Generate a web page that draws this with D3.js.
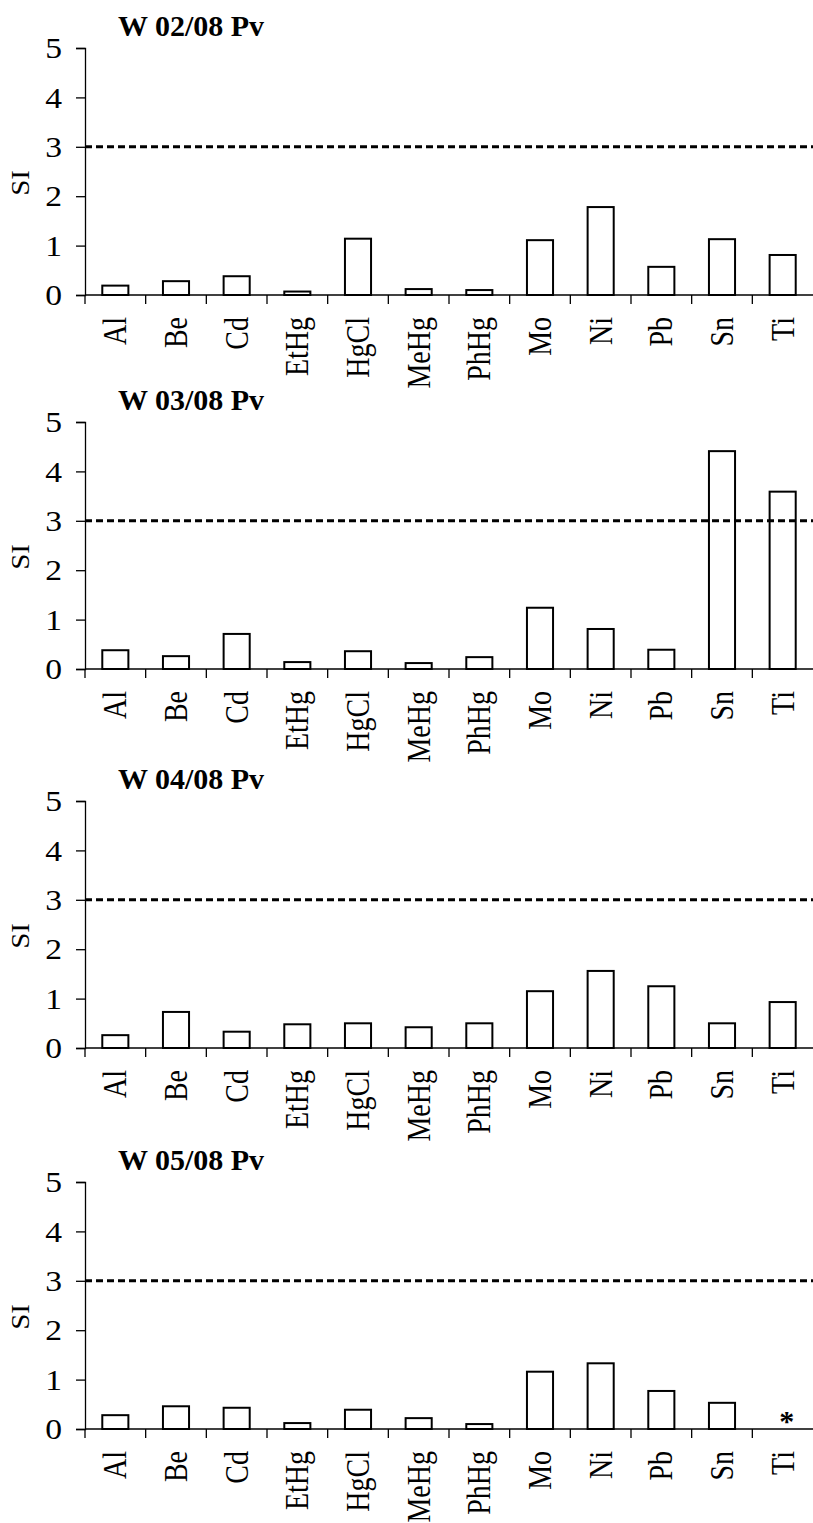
<!DOCTYPE html>
<html>
<head>
<meta charset="utf-8">
<script src="https://cdn.jsdelivr.net/npm/d3@7"></script>
<style>
  body { margin: 0; background: #fff; }
  svg { display: block; }
  text { font-family: "Liberation Serif", "Times New Roman", serif; fill: #000; }
</style>
</head>
<body>
<script>
// data
var categories = ['Al', 'Be', 'Cd', 'EtHg', 'HgCl', 'MeHg', 'PhHg', 'Mo', 'Ni', 'Pb', 'Sn', 'Ti'];
var si0208 = [0.19, 0.28, 0.38, 0.07, 1.14, 0.12, 0.10, 1.11, 1.78, 0.57, 1.13, 0.81];
var si0308 = [0.38, 0.26, 0.71, 0.14, 0.36, 0.12, 0.24, 1.24, 0.81, 0.39, 4.41, 3.59];
var si0408 = [0.26, 0.73, 0.33, 0.48, 0.50, 0.42, 0.50, 1.15, 1.56, 1.25, 0.50, 0.93];
var si0508 = [0.28, 0.46, 0.43, 0.12, 0.39, 0.22, 0.10, 1.16, 1.33, 0.77, 0.53, null];
var titles = ['W 02/08 Pv', 'W 03/08 Pv', 'W 04/08 Pv', 'W 05/08 Pv'];
var yTicks = [0, 1, 2, 3, 4, 5];
var threshold = 3;

var width = 813, height = 1523;
var left = 85, right = 813;
var panelTops = [48, 422, 801, 1182];
var plotH = 247;
var pad = 0.57;

var series = [si0208, si0308, si0408, si0508];

var svg = d3.select('body').append('svg')
  .attr('width', width)
  .attr('height', height);

var x = d3.scaleBand()
  .domain(categories)
  .range([left, right])
  .paddingInner(pad)
  .paddingOuter(pad / 2);

function drawPanel(values, title, top) {
  var g = svg.append('g');
  var y = d3.scaleLinear().domain([0, 5]).range([top + plotH, top]);
  var y0 = y(0);

  g.append('text')
    .attr('x', left + 33)
    .attr('y', top - 12)
    .attr('font-size', 30)
    .attr('font-weight', 'bold')
    .text(title);

  // y axis
  var ya = g.append('g')
    .attr('transform', 'translate(' + left + ',0)')
    .call(d3.axisLeft(y).tickValues(yTicks).tickSize(9).tickPadding(13).tickFormat(d3.format('d')));
  ya.select('.domain').attr('stroke', '#000').attr('stroke-width', 1.3);
  ya.selectAll('.tick line').attr('stroke', '#000').attr('stroke-width', 1.3);
  ya.selectAll('.tick text')
    .attr('x', 0)
    .attr('transform', 'translate(-23,0) scale(1.12,1)')
    .attr('font-size', 30)
    .attr('font-family', '"Liberation Serif", serif');

  g.append('text')
    .attr('transform', 'translate(20,' + y(2.27) + ') rotate(-90) scale(1,0.9)')
    .attr('text-anchor', 'middle')
    .attr('dy', '0.35em')
    .attr('font-size', 29)
    .text('SI');

  // bars
  var data = categories.map(function (c, i) { return { cat: c, v: values[i] }; });
  g.selectAll('rect')
    .data(data.filter(function (d) { return d.v != null; }))
    .enter()
    .append('rect')
    .attr('x', function (d) { return x(d.cat); })
    .attr('width', x.bandwidth())
    .attr('y', function (d) { return y(d.v); })
    .attr('height', function (d) { return y0 - y(d.v); })
    .attr('fill', '#fff')
    .attr('stroke', '#000')
    .attr('stroke-width', 2);

  // missing value marker
  g.selectAll('.miss')
    .data(data.filter(function (d) { return d.v == null; }))
    .enter()
    .append('text')
    .attr('class', 'miss')
    .attr('x', function (d) { return x(d.cat) + x.bandwidth() / 2 + 4; })
    .attr('y', y0 + 2)
    .attr('text-anchor', 'middle')
    .attr('font-size', 30)
    .attr('font-weight', 'bold')
    .text('*');

  // threshold line
  g.append('line')
    .attr('x1', left).attr('x2', right)
    .attr('y1', y(threshold)).attr('y2', y(threshold))
    .attr('stroke', '#000')
    .attr('stroke-width', 3)
    .attr('stroke-dasharray', '7,4');

  // x axis line and category boundary ticks
  g.append('line')
    .attr('x1', left).attr('x2', right)
    .attr('y1', y0).attr('y2', y0)
    .attr('stroke', '#000')
    .attr('stroke-width', 1.3);

  g.selectAll('.xtick')
    .data(categories)
    .enter()
    .append('line')
    .attr('class', 'xtick')
    .attr('x1', function (d) { return x(d) - x.step() * pad / 2; })
    .attr('x2', function (d) { return x(d) - x.step() * pad / 2; })
    .attr('y1', y0).attr('y2', y0 + 9)
    .attr('stroke', '#000')
    .attr('stroke-width', 1.3);

  g.selectAll('.xlab')
    .data(categories)
    .enter()
    .append('text')
    .attr('class', 'xlab')
    .attr('transform', function (d) {
      return 'translate(' + (x(d) + x.bandwidth() / 2) + ',' + (y0 + 22) + ') rotate(-90) scale(1,1.2)';
    })
    .attr('text-anchor', 'end')
    .attr('dy', '0.33em')
    .attr('font-size', 28)
    .text(function (d) { return d; });
}

series.forEach(function (s, i) {
  drawPanel(s, titles[i], panelTops[i]);
});
</script>
</body>
</html>
